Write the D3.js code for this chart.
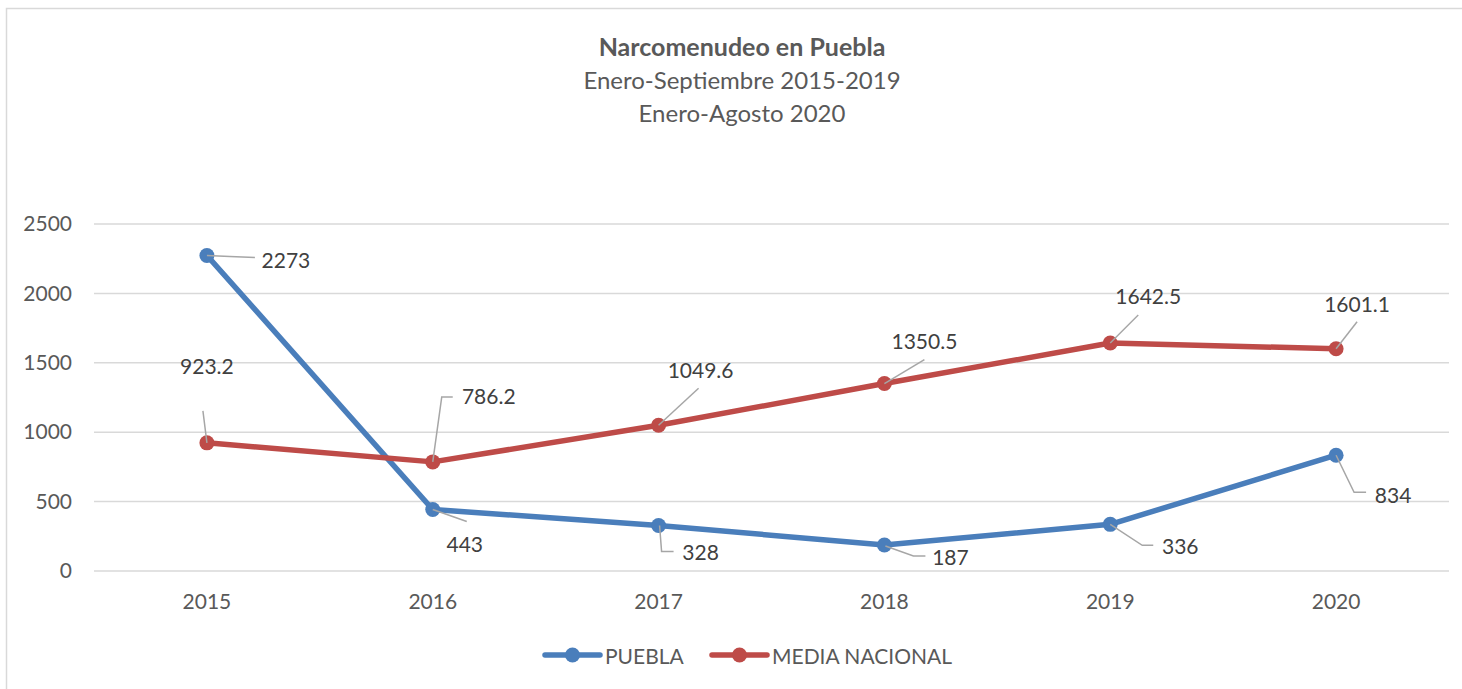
<!DOCTYPE html>
<html>
<head>
<meta charset="utf-8">
<script src="https://cdn.jsdelivr.net/npm/d3@7"></script>
<style>
  html, body { margin:0; padding:0; background:#fff; }
  svg { display:block; font-family: Lato, "Open Sans", sans-serif; }
</style>
</head>
<body>
<svg id="chart" width="1462" height="689"></svg>
<script>
// Data
const years = ['2015', '2016', '2017', '2018', '2019', '2020'];
const puebla = [2273, 443, 328, 187, 336, 834];
const mediaNacional = [923.2, 786.2, 1049.6, 1350.5, 1642.5, 1601.1];
const yTicks = [0, 500, 1000, 1500, 2000, 2500];
const titleLines = ['Narcomenudeo en Puebla', 'Enero-Septiembre 2015-2019', 'Enero-Agosto 2020'];

// Label placement (text offset from point, leader line offsets)
const pueblaLabels = [
  { t:[79, 4],   lead:[[0,0],[23,1],[48,2]] },
  { t:[32, 34],  lead:[[0,0],[34,12]] },
  { t:[42, 26],  lead:[[1,0],[3,26],[15,26]] },
  { t:[66, 11],  lead:[[1,1],[29,11],[41,11]] },
  { t:[70, 21],  lead:[[0,0],[32,21],[43,21]] },
  { t:[57, 39],  lead:[[0,0],[18,37],[30,37]] }
];
const mediaLabels = [
  { t:[0, -77],  lead:[[0,0],[-4,-32]] },
  { t:[56, -66], lead:[[0,0],[9,-65],[20,-65]] },
  { t:[42, -56], lead:[[0,0],[40,-37]] },
  { t:[40, -43], lead:[[0,0],[40,-24]] },
  { t:[38, -48], lead:[[0,0],[28,-28]] },
  { t:[21, -45], lead:[[0,0],[21,-27]] }
];

const series = [
  { name:'PUEBLA', values:puebla, color:'#4a7ebb', labels:pueblaLabels },
  { name:'MEDIA NACIONAL', values:mediaNacional, color:'#be4b48', labels:mediaLabels }
];

const svg = d3.select('#chart');
const margin = { left:94, right:13, top:224, bottom:118 };
const W = 1462, H = 689;

// outer frame
svg.append('rect').attr('x', 6.5).attr('y', 8.5).attr('width', W).attr('height', H)
  .attr('fill', 'none').attr('stroke', '#d9d9d9').attr('stroke-width', 1.5);

const x = d3.scaleBand().domain(years).range([margin.left, W - margin.right]);
const y = d3.scaleLinear().domain([0, 2500]).range([H - margin.bottom, margin.top]);
const cx = d => x(d) + x.bandwidth() / 2;

// gridlines
svg.append('g').selectAll('line').data(yTicks).join('line')
  .attr('x1', margin.left).attr('x2', W - margin.right)
  .attr('y1', d => y(d)).attr('y2', d => y(d))
  .attr('stroke', '#d9d9d9').attr('stroke-width', 1.5);

// y axis labels
const yAxis = d3.axisLeft(y).tickValues(yTicks).tickFormat(d3.format('d')).tickSize(0).tickPadding(0);
svg.append('g').attr('transform', `translate(72,0)`).call(yAxis)
  .call(g => g.select('.domain').remove())
  .selectAll('text').attr('font-size', 21).attr('fill', '#595959')
  .attr('font-family', 'Lato, sans-serif');

// x axis labels
const xAxis = d3.axisBottom(x).tickSize(0).tickPadding(0);
svg.append('g').attr('transform', `translate(0,${y(0) + 23})`).call(xAxis)
  .call(g => g.select('.domain').remove())
  .selectAll('text').attr('font-size', 21).attr('fill', '#595959')
  .attr('font-family', 'Lato, sans-serif');

// title
svg.append('g').selectAll('text').data(titleLines).join('text')
  .attr('x', 742).attr('y', (d, i) => 46 + i * 33)
  .attr('text-anchor', 'middle').attr('dominant-baseline', 'central')
  .attr('font-size', (d, i) => i === 0 ? 25 : 24)
  .attr('font-weight', (d, i) => i === 0 ? 700 : 400)
  .attr('fill', '#595959')
  .text(d => d);

// lines + markers
const line = d3.line().x((d, i) => cx(years[i])).y(d => y(d));
series.forEach(s => {
  svg.append('path').datum(s.values).attr('d', line)
    .attr('fill', 'none').attr('stroke', s.color).attr('stroke-width', 5.5)
    .attr('stroke-linejoin', 'round').attr('stroke-linecap', 'round');
  svg.append('g').selectAll('circle').data(s.values).join('circle')
    .attr('cx', (d, i) => cx(years[i])).attr('cy', d => y(d)).attr('r', 7.5)
    .attr('fill', s.color);
});

// leader lines + labels
series.forEach(s => {
  s.values.forEach((v, i) => {
    const px = cx(years[i]), py = y(v), L = s.labels[i];
    svg.append('polyline')
      .attr('points', L.lead.map(p => `${px + p[0]},${py + p[1]}`).join(' '))
      .attr('fill', 'none').attr('stroke', '#a6a6a6').attr('stroke-width', 1.5);
    svg.append('text')
      .attr('x', px + L.t[0]).attr('y', py + L.t[1])
      .attr('text-anchor', 'middle').attr('dominant-baseline', 'central')
      .attr('font-size', 21).attr('fill', '#404040')
      .text(v);
  });
});

// legend
const legend = [ { s:series[0], x:545 }, { s:series[1], x:712 } ];
legend.forEach(l => {
  const g = svg.append('g').attr('transform', `translate(${l.x},655)`);
  g.append('line').attr('x1', 0).attr('x2', 55).attr('stroke', l.s.color)
    .attr('stroke-width', 5.5).attr('stroke-linecap', 'round');
  g.append('circle').attr('cx', 27.5).attr('r', 7.5).attr('fill', l.s.color);
  g.append('text').attr('x', 60).attr('dominant-baseline', 'central')
    .attr('font-size', 21).attr('fill', '#595959').text(l.s.name);
});
</script>
</body>
</html>
